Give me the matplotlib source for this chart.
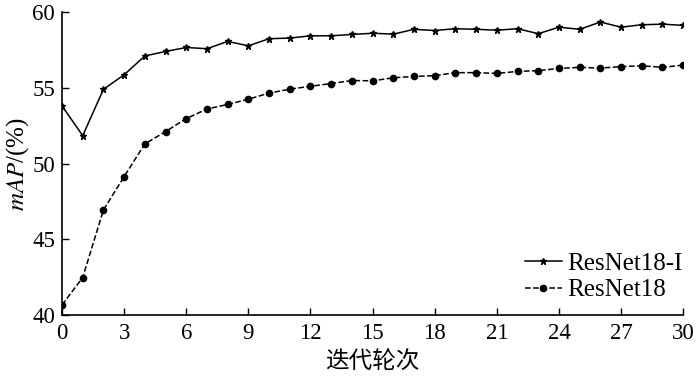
import matplotlib
matplotlib.use("Agg")
import matplotlib.pyplot as plt

epochs = list(range(31))
resnet18_i = [53.8, 51.84, 54.9, 55.86, 57.1, 57.4, 57.66, 57.58, 58.06, 57.77,
              58.24, 58.28, 58.43, 58.43, 58.52, 58.6, 58.54, 58.86, 58.78, 58.9,
              58.86, 58.8, 58.9, 58.57, 59.0, 58.86, 59.34, 59.0, 59.16, 59.2, 59.12]
resnet18 = [40.67, 42.48, 46.94, 49.14, 51.3, 52.11, 52.97, 53.6, 53.9, 54.25,
            54.65, 54.91, 55.1, 55.28, 55.48, 55.46, 55.66, 55.75, 55.8, 56.0,
            56.0, 55.95, 56.08, 56.13, 56.28, 56.35, 56.3, 56.4, 56.45, 56.35, 56.5]
xticks = list(range(0, 31, 3))
yticks = [40, 45, 50, 55, 60]

plt.rcParams['font.family'] = ['Liberation Serif', 'Noto Sans CJK SC']
plt.rcParams['mathtext.fontset'] = 'stix'

fig = plt.figure(figsize=(7, 3.76), dpi=100)
ax = fig.add_axes([0.0886, 0.162, 0.8874, 0.806])

ax.plot(epochs, resnet18_i, color='black', linestyle='-', linewidth=1.1,
        marker='*', markersize=4.5, label='ResNet18-I')
ax.plot(epochs, resnet18, color='black', linestyle='--', linewidth=1.1,
        marker='o', markersize=4.5, label='ResNet18')

ax.set_xlim(0, 30)
ax.set_ylim(40, 60)
ax.set_xticks(xticks)
ax.set_yticks(yticks)
ax.tick_params(direction='in', length=5, width=1, labelsize=16.5)
ax.tick_params(axis='x', pad=6)
ax.tick_params(axis='y', pad=5)
for s in ['top', 'right']:
    ax.spines[s].set_visible(False)
for s in ['left', 'bottom']:
    ax.spines[s].set_linewidth(1.2)

ax.set_xlabel('迭代轮次', fontsize=17, family=['Noto Sans CJK SC'], labelpad=4)
ax.set_ylabel(r'$mAP$/(%)', fontsize=18, labelpad=1)

leg = ax.legend(loc='lower right', bbox_to_anchor=(1.015, 0.012), frameon=False,
                fontsize=18, handlelength=1.5, handletextpad=0.2,
                labelspacing=0.15, borderaxespad=0.0, borderpad=0.4)

fig.savefig('out.png', dpi=100)
